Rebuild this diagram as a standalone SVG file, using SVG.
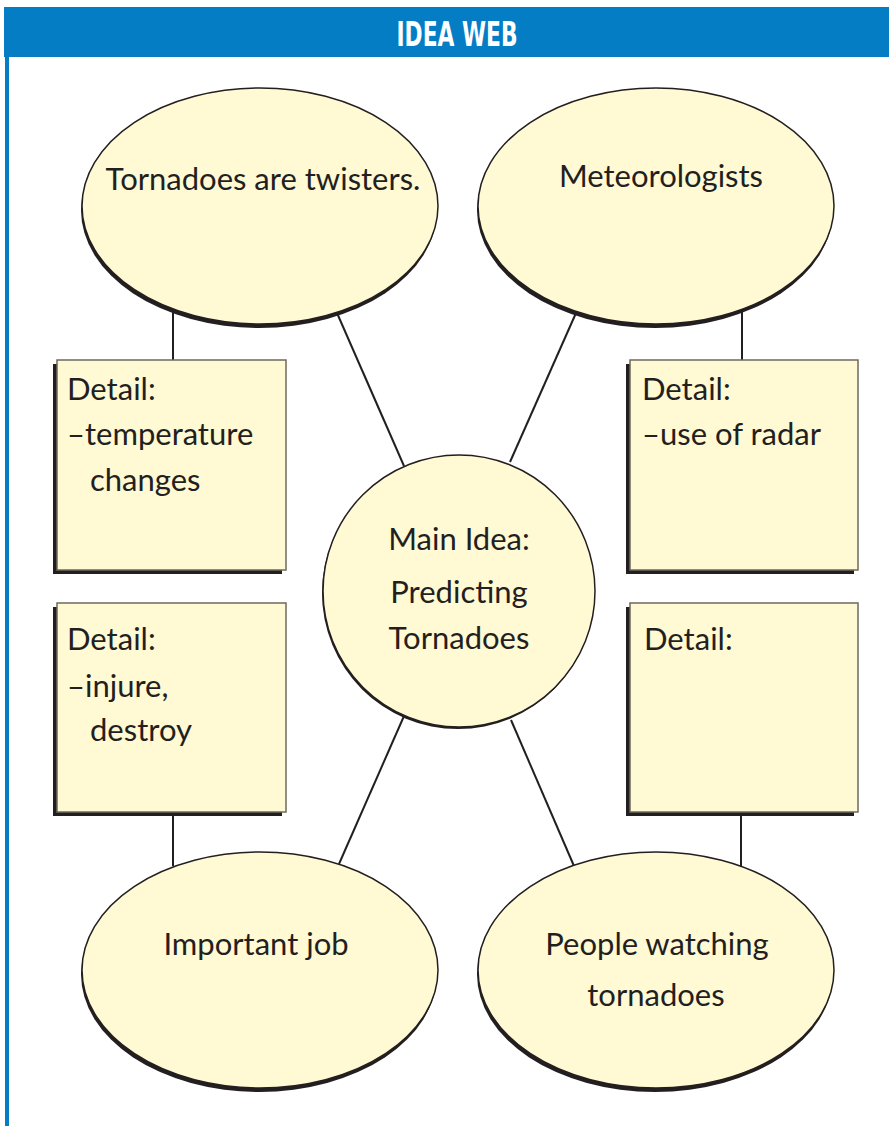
<svg xmlns="http://www.w3.org/2000/svg" width="889" height="1126" viewBox="0 0 889 1126">
<style>
.shadow{fill:#231f20}
.node{fill:#fff9d4;stroke:#231f20;stroke-width:1.5}
.box{fill:#fff9d4;stroke:#6d6a5e;stroke-width:1.5}
.conn line{stroke:#231f20;stroke-width:2}
.t{font-family:Lato,"Noto Sans",sans-serif;font-size:31px;fill:#231f20}
.c{text-anchor:middle}
.title{font-family:"Liberation Sans Narrow","DejaVu Sans Condensed",sans-serif;font-stretch:condensed;font-weight:bold;font-size:33px;fill:#fff;text-anchor:middle}
</style>
<rect width="889" height="1126" fill="#fff"/>
<g id="header">
<rect x="4" y="7" width="885" height="50" fill="#047dc5"/>
<rect x="5" y="57" width="4" height="1069" fill="#047dc5"/>
<text class="title" x="457" y="46" textLength="121" lengthAdjust="spacingAndGlyphs">IDEA WEB</text>
</g>
<g class="conn" id="connectors">
<line x1="173" y1="310" x2="173" y2="360"/>
<line x1="742" y1="310" x2="742" y2="360"/>
<line x1="173" y1="812" x2="173" y2="866"/>
<line x1="741" y1="812" x2="741" y2="866"/>
<line x1="337" y1="313" x2="404" y2="466"/>
<line x1="576" y1="313" x2="510" y2="462"/>
<line x1="404" y1="716" x2="339" y2="864"/>
<line x1="511" y1="720" x2="574" y2="866"/>
</g>
<g id="n-twisters">
<ellipse class="shadow" cx="259" cy="210" rx="178" ry="118"/>
<ellipse class="node" cx="260" cy="206" rx="178" ry="118"/>
<text class="t c" x="263" y="190">Tornadoes are twisters.</text>
</g>
<g id="n-meteorologists">
<ellipse class="shadow" cx="655" cy="210" rx="178" ry="118"/>
<ellipse class="node" cx="656" cy="206" rx="178" ry="118"/>
<text class="t c" x="661" y="187">Meteorologists</text>
</g>
<g id="n-important">
<ellipse class="shadow" cx="259" cy="974" rx="178" ry="118"/>
<ellipse class="node" cx="260" cy="970" rx="178" ry="118"/>
<text class="t c" x="256" y="955">Important job</text>
</g>
<g id="n-watching">
<ellipse class="shadow" cx="655" cy="974" rx="178" ry="118"/>
<ellipse class="node" cx="656" cy="970" rx="178" ry="118"/>
<text class="t c" x="657" y="955">People watching</text>
<text class="t c" x="656" y="1006">tornadoes</text>
</g>
<g id="n-main">
<circle class="shadow" cx="458" cy="593" r="136"/>
<circle class="node" cx="459" cy="591" r="136"/>
<text class="t c" x="459" y="550">Main Idea:</text>
<text class="t c" x="459" y="603">Predicting</text>
<text class="t c" x="459" y="649">Tornadoes</text>
</g>
<g id="d-temperature">
<rect class="shadow" x="53" y="364" width="229" height="210"/>
<rect class="box" x="57" y="360" width="229" height="210"/>
<text class="t" x="67" y="400">Detail:</text>
<text class="t" x="67" y="445">–temperature</text>
<text class="t" x="90" y="491">changes</text>
</g>
<g id="d-radar">
<rect class="shadow" x="626" y="364" width="228" height="210"/>
<rect class="box" x="630" y="360" width="228" height="210"/>
<text class="t" x="642" y="400">Detail:</text>
<text class="t" x="642" y="445">–use of radar</text>
</g>
<g id="d-injure">
<rect class="shadow" x="53" y="607" width="229" height="209"/>
<rect class="box" x="57" y="603" width="229" height="209"/>
<text class="t" x="67" y="650">Detail:</text>
<text class="t" x="67" y="697">–injure,</text>
<text class="t" x="90" y="741">destroy</text>
</g>
<g id="d-empty">
<rect class="shadow" x="626" y="607" width="228" height="209"/>
<rect class="box" x="630" y="603" width="228" height="209"/>
<text class="t" x="644" y="650">Detail:</text>
</g>
</svg>
